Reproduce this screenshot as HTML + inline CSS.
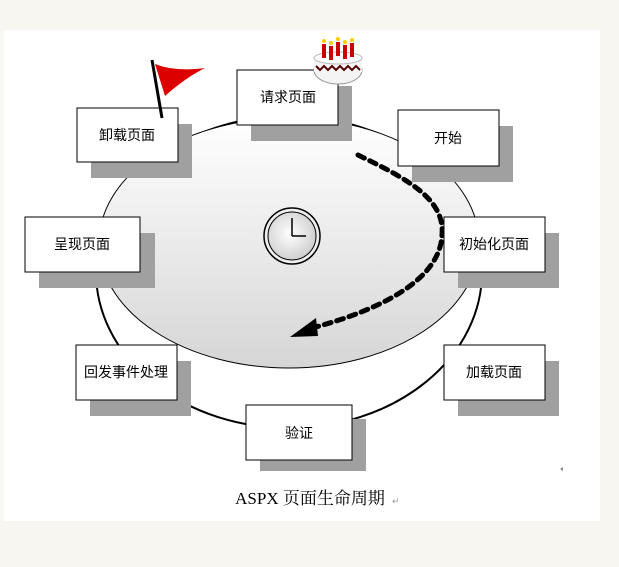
<!DOCTYPE html>
<html><head><meta charset="utf-8"><style>
html,body{margin:0;padding:0;background:#f8f6f0;}
svg{display:block}
text{font-family:"Liberation Sans","Noto Sans CJK SC",sans-serif;font-size:14px;fill:#000}
</style></head><body>
<svg width="619" height="567" viewBox="0 0 619 567" xmlns="http://www.w3.org/2000/svg">
<defs>
<linearGradient id="g" x1="0" y1="0" x2="0" y2="1">
<stop offset="0" stop-color="#ffffff"/><stop offset="1" stop-color="#d6d6d6"/>
</linearGradient>
<radialGradient id="cf" cx="0.45" cy="0.45" r="0.6"><stop offset="0" stop-color="#fff"/><stop offset="1" stop-color="#ccc"/></radialGradient>
</defs>
<rect x="4" y="30" width="596" height="491" fill="#fff"/>
<!-- ring -->
<ellipse cx="289" cy="272" rx="193" ry="156" fill="none" stroke="#000" stroke-width="2"/>
<!-- disc -->
<ellipse cx="289" cy="243" rx="190" ry="125" fill="url(#g)" stroke="#000" stroke-width="1"/>
<!-- clock -->
<circle cx="292" cy="236" r="28" fill="#eee" stroke="#000" stroke-width="1.5"/>
<circle cx="292" cy="236" r="24" fill="url(#cf)" stroke="#000" stroke-width="1"/>
<line x1="292" y1="236" x2="292" y2="218" stroke="#000" stroke-width="1.5"/>
<line x1="292" y1="236" x2="306" y2="236" stroke="#000" stroke-width="1.5"/>
<!-- dashed arrow -->
<path d="M358 155 C 410 180, 445 200, 442 235 C 440 280, 380 310, 312 328" fill="none" stroke="#000" stroke-width="5" stroke-dasharray="7,6" stroke-linecap="round"/>
<polygon points="290,337 316,318 318,336" fill="#000"/>
<!-- boxes -->
<g stroke="#000" stroke-width="1">
<rect x="251" y="86" width="101" height="55" fill="#a0a0a0" stroke="none"/>
<rect x="237" y="70" width="101" height="55" fill="#fff"/>
<rect x="412" y="126" width="101" height="56" fill="#a0a0a0" stroke="none"/>
<rect x="398" y="110" width="101" height="56" fill="#fff"/>
<rect x="91" y="124" width="101" height="54" fill="#a0a0a0" stroke="none"/>
<rect x="77" y="108" width="101" height="54" fill="#fff"/>
<rect x="39" y="233" width="116" height="55" fill="#a0a0a0" stroke="none"/>
<rect x="25" y="217" width="115" height="55" fill="#fff"/>
<rect x="458" y="233" width="101" height="55" fill="#a0a0a0" stroke="none"/>
<rect x="444" y="217" width="101" height="55" fill="#fff"/>
<rect x="90" y="361" width="101" height="55" fill="#a0a0a0" stroke="none"/>
<rect x="76" y="345" width="101" height="55" fill="#fff"/>
<rect x="458" y="361" width="101" height="55" fill="#a0a0a0" stroke="none"/>
<rect x="444" y="345" width="101" height="55" fill="#fff"/>
<rect x="260" y="419" width="106" height="52" fill="#a0a0a0" stroke="none"/>
<rect x="246" y="405" width="106" height="55" fill="#fff"/>
</g>
<g text-anchor="middle">
<text x="288" y="102">请求页面</text>
<text x="448" y="143">开始</text>
<text x="127" y="140">卸载页面</text>
<text x="82" y="249">呈现页面</text>
<text x="494" y="249">初始化页面</text>
<text x="126" y="377">回发事件处理</text>
<text x="494" y="377">加载页面</text>
<text x="299" y="438">验证</text>
</g>
<!-- flag -->
<line x1="152" y1="60" x2="162" y2="118" stroke="#000" stroke-width="3"/>
<path d="M155 64 Q175 72 205 68 Q185 78 165 96 Z" fill="#d00"/>
<!-- cake -->
<ellipse cx="338" cy="70" rx="24" ry="14" fill="#f4f4f4" stroke="#999"/>
<rect x="314" y="58" width="48" height="14" fill="#f4f4f4"/>
<ellipse cx="338" cy="58" rx="24" ry="6" fill="#fff" stroke="#bbb"/>
<path d="M316 66 l4 4 4 -4 4 4 4 -4 4 4 4 -4 4 4 4 -4 4 4 4 -4 4 4" fill="none" stroke="#500" stroke-width="2"/>
<g fill="#c00"><rect x="322" y="44" width="4" height="14"/><rect x="329" y="46" width="4" height="14"/><rect x="336" y="42" width="4" height="14"/><rect x="343" y="45" width="4" height="14"/><rect x="350" y="43" width="4" height="14"/></g>
<g fill="#fc0"><circle cx="324" cy="41" r="2"/><circle cx="331" cy="43" r="2"/><circle cx="338" cy="39" r="2"/><circle cx="345" cy="42" r="2"/><circle cx="352" cy="40" r="2"/></g>
<polygon points="563,467 560,469 563,471" fill="#888"/>
<text x="310" y="504" text-anchor="middle" style="font-family:'Liberation Serif','Noto Serif CJK SC',serif;font-size:17px">ASPX 页面生命周期</text>
<text x="392" y="504" style="font-size:9px;fill:#999">↵</text>
</svg>
</body></html>
